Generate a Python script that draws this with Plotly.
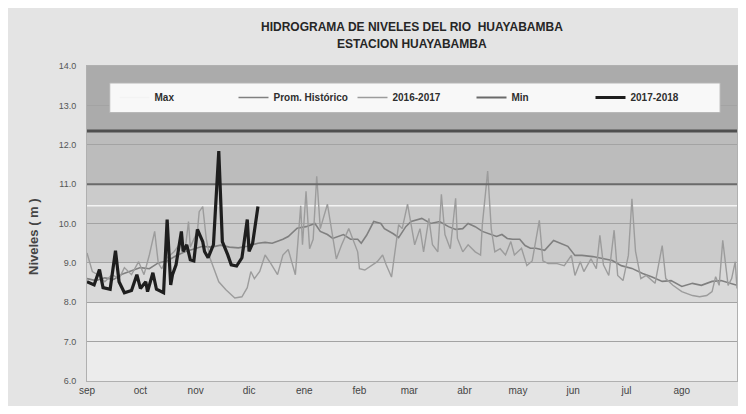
import plotly.graph_objects as go

# ---------------- data ----------------
month_days = [0, 30, 61, 91, 122, 153, 181, 212, 242, 273, 303, 334]
month_labels = ["sep", "oct", "nov", "dic", "ene", "feb", "mar", "abr", "may", "jun", "jul", "ago"]

prom_days = [0, 5, 10, 15, 20, 25, 30, 35, 40, 45, 50, 55, 60, 65, 70, 75, 80, 85, 90, 96, 100, 104,
             110, 113, 118, 123, 128, 131, 135, 138, 144, 148, 152, 154, 157, 161, 165, 167, 172, 175,
             179, 182, 188, 193, 198, 203, 207, 211, 214, 218, 222, 226, 230, 233, 236, 239, 243, 246,
             249, 252, 257, 262, 266, 270, 274, 278, 284, 289, 295, 300, 306, 312, 317, 323, 328, 334,
             340, 345, 351, 356, 361, 365]
prom_vals = [8.60, 8.55, 8.62, 8.58, 8.72, 8.80, 8.88, 8.85, 9.00, 9.05, 9.18, 9.28, 9.35, 9.42, 9.40,
             9.45, 9.40, 9.38, 9.42, 9.50, 9.52, 9.50, 9.60, 9.67, 9.88, 9.92, 10.00, 9.80, 9.72, 9.62,
             9.72, 9.60, 9.60, 9.50, 9.70, 10.05, 10.00, 9.87, 9.74, 9.64, 9.92, 10.05, 10.13, 10.00,
             10.05, 9.92, 9.85, 9.87, 10.00, 9.92, 9.80, 9.74, 9.67, 9.72, 9.62, 9.60, 9.60, 9.44, 9.37,
             9.37, 9.32, 9.57, 9.50, 9.42, 9.19, 9.19, 9.16, 9.11, 9.06, 8.93, 8.86, 8.73, 8.65, 8.53,
             8.55, 8.40, 8.48, 8.43, 8.53, 8.55, 8.48, 8.43]

y1617_days = [0, 2, 3, 6, 10, 14, 18, 21, 25, 29, 32, 35, 38, 40, 42, 45, 49, 53, 55, 57, 58, 62, 63, 65,
              67, 69, 72, 74, 78, 83, 87, 90, 92, 94, 97, 100, 103, 107, 110, 113, 117, 120, 121, 123,
              125, 127, 129, 131, 135, 138, 140, 143, 147, 152, 153, 156, 160, 163, 166, 168, 171, 173,
              175, 177, 180, 183, 184, 187, 189, 192, 194, 197, 199, 201, 204, 207, 208, 211, 214, 218,
              221, 222, 225, 227, 229, 232, 235, 238, 240, 244, 247, 250, 254, 256, 259, 264, 268, 272,
              274, 277, 279, 283, 286, 288, 290, 293, 296, 298, 301, 304, 306, 308, 311, 314, 319, 323,
              325, 329, 334, 340, 344, 348, 351, 353, 355, 357, 360, 362, 364, 365]
y1617_vals = [9.25, 8.90, 8.78, 8.70, 8.52, 8.70, 8.60, 8.88, 8.70, 9.03, 8.70, 9.20, 9.80, 9.00, 8.85,
              9.13, 9.29, 9.54, 9.29, 10.05, 9.40, 9.80, 10.30, 10.43, 9.60, 9.13, 8.78, 8.52, 8.32,
              8.11, 8.14, 8.37, 8.78, 8.60, 8.78, 9.20, 9.00, 8.70, 9.20, 9.34, 8.70, 10.45, 9.46, 10.82,
              9.36, 9.60, 11.20, 9.87, 10.49, 9.72, 9.10, 9.46, 9.87, 9.28, 8.85, 8.82, 8.95, 9.03, 9.20,
              8.95, 8.64, 9.28, 9.97, 9.87, 10.49, 9.72, 9.46, 9.87, 9.28, 10.13, 9.46, 9.28, 10.74, 9.72,
              9.36, 10.64, 9.62, 9.28, 9.46, 9.28, 9.20, 9.97, 11.33, 9.87, 9.28, 9.36, 9.20, 9.54, 9.20,
              9.37, 8.93, 9.05, 10.08, 9.05, 8.98, 8.98, 8.93, 9.19, 8.68, 9.03, 8.78, 9.10, 8.85, 9.70,
              8.95, 8.68, 9.83, 8.68, 8.55, 9.19, 10.63, 9.30, 8.60, 8.68, 8.48, 9.44, 8.60, 8.43, 8.27,
              8.17, 8.14, 8.17, 8.27, 8.65, 8.43, 9.57, 8.43, 8.60, 9.03, 8.35]

y1718_days = [0, 2, 4, 7, 9, 13, 16, 18, 21, 25, 28, 30, 33, 34, 37, 39, 43, 45, 47, 48, 50, 53, 54, 56,
              58, 60, 62, 65, 66, 68, 71, 74, 76, 79, 81, 84, 87, 90, 91, 93, 96]
y1718_vals = [8.52, 8.48, 8.44, 8.83, 8.37, 8.33, 9.31, 8.52, 8.24, 8.30, 8.70, 8.35, 8.52, 8.27, 8.75,
              8.33, 8.24, 10.10, 8.44, 8.70, 8.95, 9.80, 9.29, 9.46, 9.08, 9.05, 9.85, 9.54, 9.29, 9.13,
              9.46, 11.84, 9.54, 9.21, 8.95, 8.92, 9.13, 10.10, 9.29, 9.50, 10.43]

max_level = 10.45
min_level = 11.0
alert_level = 12.35
year_span = [0, 365]

band_edges = [6.0, 8.0, 9.0, 11.0, 12.35, 14.0]
band_colors = ["#ececec", "#d9d9d9", "#cbcbcb", "#bcbcbc", "#ababab"]

# ---------------- figure ----------------
FONT = "Liberation Sans"
fig = go.Figure()

fig.add_trace(go.Scatter(x=year_span, y=[alert_level] * 2, mode="lines",
                         line=dict(color="#4f4f4f", width=3), showlegend=False, hoverinfo="skip"))
fig.add_trace(go.Scatter(x=year_span, y=[max_level] * 2, mode="lines", name="Max",
                         line=dict(color="#f3f3f3", width=1.5)))
fig.add_trace(go.Scatter(x=prom_days, y=prom_vals, mode="lines", name="Prom. Histórico",
                         line=dict(color="#808080", width=1.6)))
fig.add_trace(go.Scatter(x=y1617_days, y=y1617_vals, mode="lines", name="2016-2017",
                         line=dict(color="#9c9c9c", width=1.4)))
fig.add_trace(go.Scatter(x=year_span, y=[min_level] * 2, mode="lines", name="Min",
                         line=dict(color="#6a6a6a", width=2)))
fig.add_trace(go.Scatter(x=y1718_days, y=y1718_vals, mode="lines", name="2017-2018",
                         line=dict(color="#1e1e1e", width=3.2)))

shapes = []
for i, c in enumerate(band_colors):
    shapes.append(dict(type="rect", xref="paper", yref="y", x0=0, x1=1,
                       y0=band_edges[i], y1=band_edges[i + 1], fillcolor=c,
                       line=dict(width=0), layer="below"))
# legend box (drawn over the gridlines; the legend text sits above it)
shapes.append(dict(type="rect", xref="paper", yref="paper", x0=0.035, x1=0.974, y0=0.852, y1=0.946,
                   fillcolor="#f8f8f8", line=dict(color="#b5b5b5", width=1), layer="above"))

# page has an 8px body margin: figure occupies page x 8..738, y 8..406
fig.update_layout(
    width=730, height=398,
    margin=dict(l=79, r=1, t=58, b=25),
    paper_bgcolor="#e4e4e4",
    plot_bgcolor="#ececec",
    shapes=shapes,
    showlegend=True,
    legend=dict(orientation="h", x=0.5, xanchor="center", y=0.90, yanchor="middle",
                bgcolor="rgba(0,0,0,0)", itemwidth=30, entrywidth=74, entrywidthmode="pixels",
                font=dict(family=FONT, size=10, color="#2e2e2e", weight="bold")),
    xaxis=dict(range=year_span, tickvals=month_days, ticktext=month_labels, showgrid=False,
               zeroline=False, showline=True, linecolor="#b0b0b0", mirror=True, ticks="",
               tickfont=dict(family=FONT, size=10, color="#444444")),
    yaxis=dict(range=[6, 14], dtick=1, tickformat=".1f", showgrid=True, gridcolor="#a3a3a3",
               gridwidth=1, zeroline=False, showline=True, linecolor="#b0b0b0", mirror=True,
               ticks="", ticklabelstandoff=8,
               tickfont=dict(family=FONT, size=9, color="#555555")),
    annotations=[
        dict(text="<b>HIDROGRAMA DE NIVELES DEL RIO  HUAYABAMBA</b>", xref="paper", yref="paper",
             x=0.5, y=(381 - 27) / 315, xanchor="center", yanchor="middle", showarrow=False,
             font=dict(family=FONT, size=12, color="#262626")),
        dict(text="<b>ESTACION HUAYABAMBA</b>", xref="paper", yref="paper",
             x=0.5, y=(381 - 44) / 315, xanchor="center", yanchor="middle", showarrow=False,
             font=dict(family=FONT, size=12, color="#262626")),
        dict(text="<b>Niveles ( m )</b>", xref="paper", yref="paper", x=(33 - 87) / 650,
             y=(381 - 237) / 315, xanchor="center", yanchor="middle", textangle=-90,
             showarrow=False, font=dict(family=FONT, size=13, color="#444444")),
    ],
)

fig.write_html("out.html")
